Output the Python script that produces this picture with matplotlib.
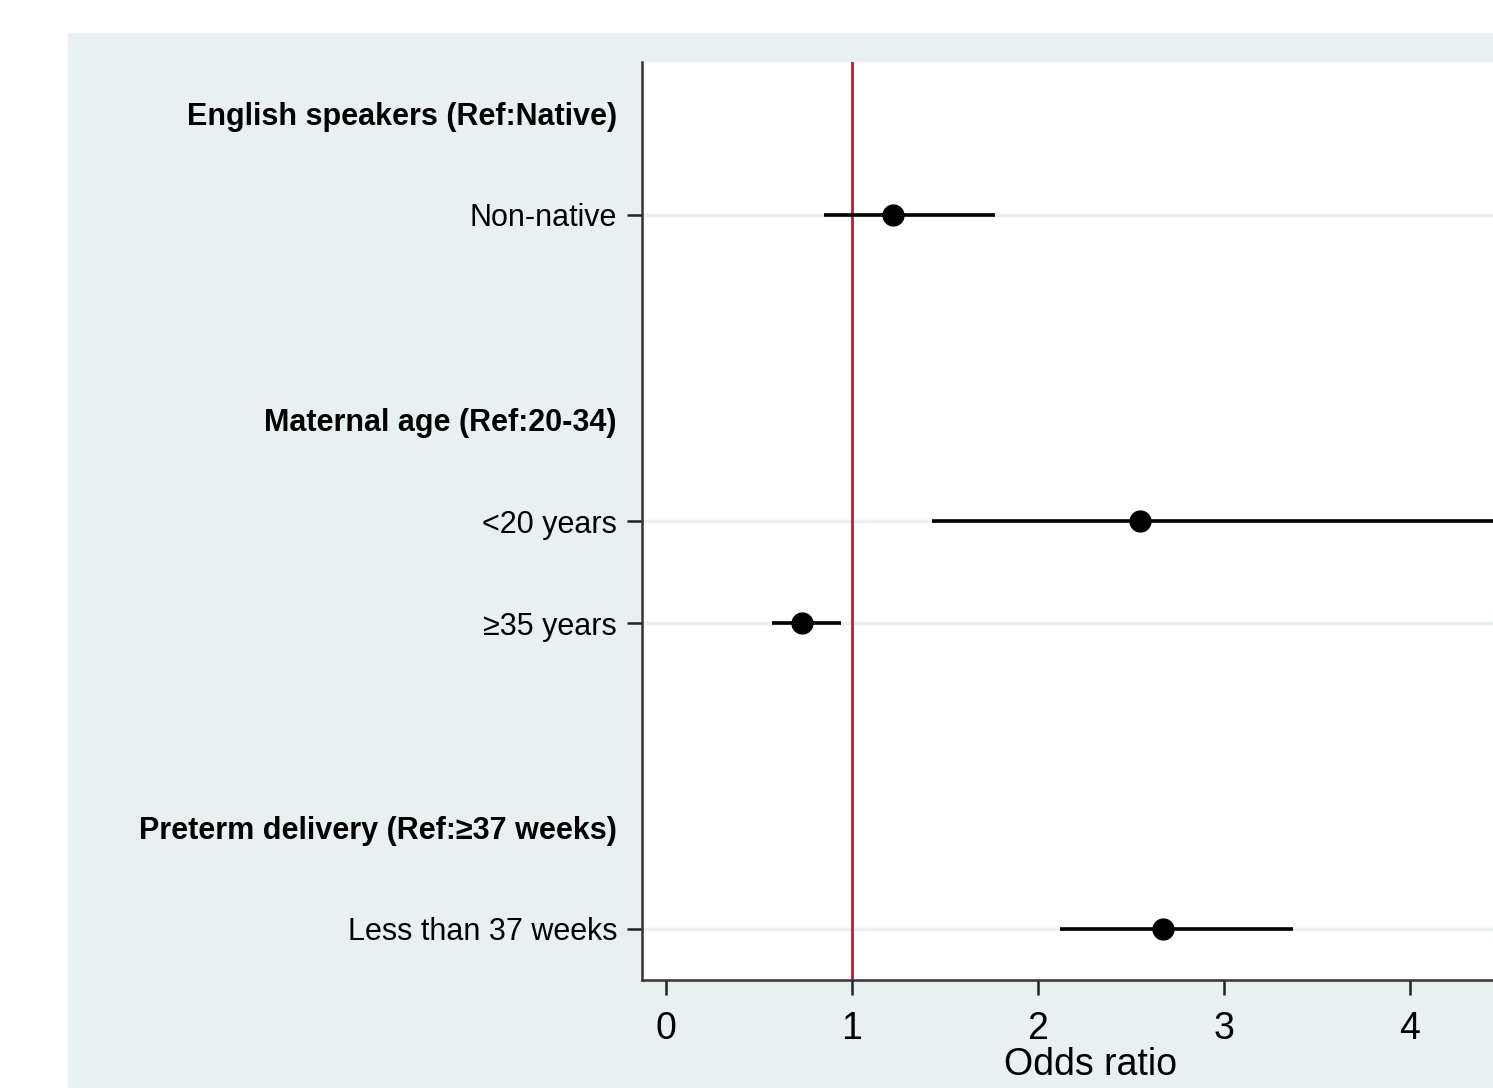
"""Forest plot of odds ratios (recreated from a Stata coefplot-style figure)."""
import matplotlib
matplotlib.use("Agg")
import matplotlib.pyplot as plt
from matplotlib.patches import Rectangle

plt.rcParams["font.family"] = ["Liberation Sans", "DejaVu Sans"]

# y-axis rows, top to bottom (headers have no estimate)
ROW_LABELS = ["English speakers (Ref:Native)", "Non-native",
              "Maternal age (Ref:20-34)", "<20 years", "\u226535 years",
              "Preterm delivery (Ref:\u226537 weeks)", "Less than 37 weeks"]
IS_HEADER = [True, False, True, False, False, True, False]
ROW_POS = [0, 1, 3, 4, 5, 7, 8]

# estimates per item row
ITEMS = ["Non-native", "<20 years", "\u226535 years", "Less than 37 weeks"]
OR = [1.22, 2.55, 0.73, 2.67]
CI_LO = [0.85, 1.43, 0.57, 2.12]
CI_HI = [1.77, 4.70, 0.94, 3.37]

BG = "#e8f0f2"
W, H = 1493, 1088

fig = plt.figure(figsize=(W / 100, H / 100), dpi=100, facecolor="white")
fig.patches.append(Rectangle((68 / W, 0), 1 - 68 / W, 1 - 33 / H,
                             transform=fig.transFigure, color=BG, zorder=-10))

ax = fig.add_axes([642 / W, 1 - 980 / H, 1 - 642 / W, (980 - 62) / H])
ax.set_facecolor("white")

ypos = {lab: p for lab, p in zip(ROW_LABELS, ROW_POS)}
item_y = [ypos[i] for i in ITEMS]

for y in item_y:
    ax.axhline(y, color=BG, lw=2.5, zorder=1)
ax.axvline(1, color="#cc1139", lw=2.0, zorder=2)

xerr = [[o - l for o, l in zip(OR, CI_LO)], [h - o for o, h in zip(OR, CI_HI)]]
ax.errorbar(OR, item_y, xerr=xerr, fmt="o", color="black", ms=15,
            elinewidth=2.6, capsize=0, zorder=3)

ax.set_xlim(-0.129, 4.446)
ax.set_ylim(8.5, -0.5)
ax.set_xticks([0, 1, 2, 3, 4])
ax.set_yticks(ROW_POS)
ax.set_yticklabels(ROW_LABELS)
ax.tick_params(axis="y", length=11, width=1.8, pad=7, labelsize=22, color="#222222")
ax.tick_params(axis="x", length=11, width=1.8, pad=11, labelsize=27, color="#222222")
for tick, lab, hdr in zip(ax.yaxis.get_major_ticks(), ax.get_yticklabels(), IS_HEADER):
    if hdr:
        tick.tick1line.set_visible(False)
        lab.set_fontweight("bold")

for side in ("top", "right"):
    ax.spines[side].set_visible(False)
for side in ("left", "bottom"):
    ax.spines[side].set_color("#333333")
    ax.spines[side].set_linewidth(1.8)

ax.set_xlabel("Odds ratio", fontsize=27)
ax.xaxis.label.set_va("center")
ax.xaxis.set_label_coords((1090 - 642) / (W - 642), (980 - 1065) / (980 - 62))

fig.savefig("out.png", dpi=100, facecolor="white")
